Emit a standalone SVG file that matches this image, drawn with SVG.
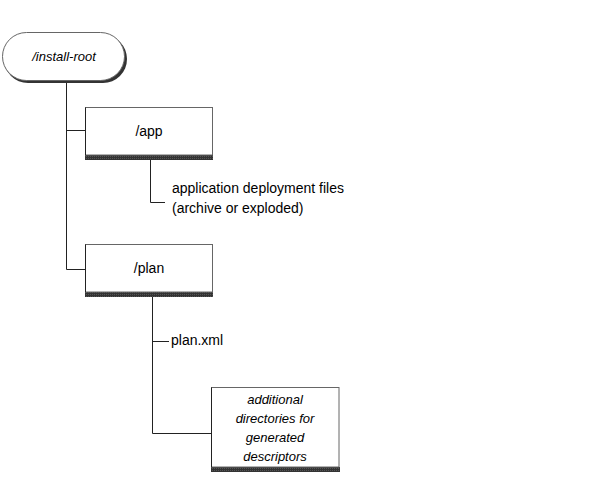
<svg xmlns="http://www.w3.org/2000/svg" width="597" height="479" viewBox="0 0 597 479">
<defs>
<pattern id="sh" width="2" height="2" patternUnits="userSpaceOnUse">
<rect width="2" height="2" fill="#333"/>
<rect width="1" height="1" fill="#555"/>
</pattern>
</defs>
<style>
.box{fill:#fff;stroke:#666;stroke-width:1}
.shadow{fill:url(#sh)}
.t{font-family:"Liberation Sans",Arial,sans-serif;font-size:14px;fill:#000}
.i{font-style:italic;font-size:13px}
.c{text-anchor:middle}
.ln{fill:none;stroke:#222;stroke-width:1}
</style>
<rect width="597" height="479" fill="#fff"/>
<g id="connectors">
<path class="ln" d="M66.5 83 V269.5 H86"/>
<path class="ln" d="M66.5 130.5 H86"/>
<path class="ln" d="M150.5 160 V202.5 H165"/>
<path class="ln" d="M152.5 297 V433.5 H211"/>
<path class="ln" d="M152.5 341.5 H169"/>
</g>
<g id="install-root">
<rect x="4" y="35" width="123" height="48" rx="24" fill="#333"/>
<rect class="box" x="2.5" y="32.5" width="122" height="48" rx="24" stroke="#222"/>
<text class="t i c" x="64" y="61">/install-root</text>
</g>
<g id="app">
<rect class="shadow" x="85" y="155" width="128" height="5"/>
<rect class="box" x="85.5" y="107.5" width="127" height="47.5"/>
<path d="M85.5 155 V107.5" stroke="#222" fill="none"/>
<text class="t c" x="149" y="136">/app</text>
</g>
<g id="app-note">
<text class="t" x="172" y="193">application deployment files</text>
<text class="t" x="172" y="213">(archive or exploded)</text>
</g>
<g id="plan">
<rect class="shadow" x="85" y="292" width="128" height="5"/>
<rect class="box" x="85.5" y="244.5" width="127" height="47.5"/>
<path d="M85.5 292 V244.5" stroke="#222" fill="none"/>
<text class="t c" x="149" y="273">/plan</text>
</g>
<g id="plan-xml">
<text class="t" x="171" y="345">plan.xml</text>
</g>
<g id="additional">
<rect class="shadow" x="211" y="467" width="129" height="5"/>
<rect class="box" x="211.5" y="387.5" width="127.5" height="79.5"/>
<path d="M211.5 467 V387.5" stroke="#222" fill="none"/>
<text class="t i c" x="275" y="404">additional</text>
<text class="t i c" x="275" y="423">directories for</text>
<text class="t i c" x="275" y="442">generated</text>
<text class="t i c" x="275" y="461">descriptors</text>
</g>
</svg>
